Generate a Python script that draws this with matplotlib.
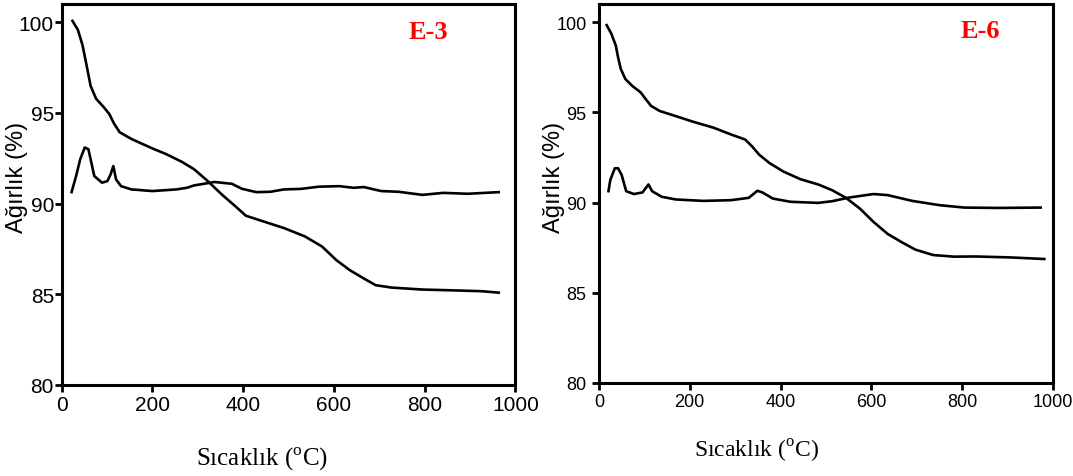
import matplotlib
matplotlib.use("Agg")
import matplotlib.pyplot as plt

plt.rcParams['mathtext.fontset'] = 'custom'
plt.rcParams['mathtext.rm'] = 'Liberation Serif'

# E-3 panel
e3_upper_x = [24, 36, 46, 55, 64, 76, 93, 105, 116, 128, 154, 200, 231, 265, 292, 322, 353, 383,
              406, 444, 490, 536, 574, 605, 635, 666, 692, 727, 795, 857, 925, 963]
e3_upper_y = [100.07, 99.57, 98.74, 97.63, 96.48, 95.78, 95.31, 94.94, 94.39, 93.93, 93.56, 93.04,
              92.72, 92.30, 91.89, 91.24, 90.50, 89.85, 89.33, 89.02, 88.65, 88.19, 87.63, 86.89,
              86.33, 85.87, 85.50, 85.37, 85.26, 85.22, 85.17, 85.09]
e3_lower_x = [22, 32, 41, 51, 59, 64, 72, 89, 101, 108, 114, 120, 131, 154, 200, 253, 276, 292,
              337, 375, 398, 429, 460, 490, 528, 566, 612, 643, 666, 704, 742, 795, 841, 895, 963]
e3_lower_y = [90.63, 91.52, 92.44, 93.09, 93.00, 92.44, 91.52, 91.15, 91.24, 91.61, 92.07, 91.33,
              90.96, 90.78, 90.69, 90.78, 90.87, 91.00, 91.19, 91.09, 90.81, 90.63, 90.65, 90.78,
              90.81, 90.93, 90.96, 90.87, 90.91, 90.69, 90.65, 90.48, 90.59, 90.54, 90.63]

# E-6 panel
e6_upper_x = [17, 27, 37, 42, 48, 58, 73, 92, 103, 115, 134, 169, 207, 253, 291, 322, 337, 353,
              376, 406, 444, 483, 513, 544, 575, 605, 636, 667, 697, 736, 782, 828, 904, 981]
e6_upper_y = [99.83, 99.37, 98.71, 98.06, 97.41, 96.85, 96.47, 96.10, 95.73, 95.35, 95.07, 94.79,
              94.48, 94.14, 93.77, 93.49, 93.12, 92.65, 92.18, 91.72, 91.29, 91.00, 90.69, 90.26,
              89.66, 88.92, 88.26, 87.80, 87.39, 87.09, 87.00, 87.01, 86.96, 86.87]
e6_lower_x = [21, 25, 35, 42, 50, 60, 77, 96, 109, 117, 138, 169, 230, 291, 330, 349, 360, 383,
              422, 483, 513, 552, 605, 636, 690, 751, 805, 881, 973]
e6_lower_y = [90.63, 91.25, 91.90, 91.90, 91.53, 90.63, 90.47, 90.56, 91.00, 90.63, 90.32, 90.17,
              90.09, 90.13, 90.26, 90.65, 90.56, 90.22, 90.04, 89.98, 90.07, 90.28, 90.47, 90.41,
              90.09, 89.85, 89.72, 89.70, 89.72]

xticks = [0, 200, 400, 600, 800, 1000]
yticks = [80, 85, 90, 95, 100]

fig = plt.figure(figsize=(10.73, 4.77), dpi=100)
ax1 = fig.add_axes([0.0574, 0.1908, 0.4230, 0.7987])
ax2 = fig.add_axes([0.5582, 0.1950, 0.4231, 0.7945])

panels = [
    (ax1, e3_upper_x, e3_upper_y, e3_lower_x, e3_lower_y, 'E-3', 0.807, 15, 0.5),
    (ax2, e6_upper_x, e6_upper_y, e6_lower_x, e6_lower_y, 'E-6', 0.841, 13, 4),
]
for ax, ux, uy, lx, ly, name, tx, fs, ypad in panels:
    ax.plot(ux, uy, color='black', lw=1.9)
    ax.plot(lx, ly, color='black', lw=1.9)
    ax.set_xlim(0, 1000)
    ax.set_ylim(80, 101)
    ax.set_xticks(xticks)
    ax.set_yticks(yticks)
    for s in ax.spines.values():
        s.set_linewidth(2.2)
    ax.tick_params(direction='out', length=5, width=2, labelsize=fs,
                   top=False, right=False)
    ax.tick_params(axis='y', pad=ypad)
    ax.tick_params(axis='x', pad=2)
    for lab in ax.get_xticklabels() + ax.get_yticklabels():
        lab.set_fontfamily('Liberation Sans')
    ax.text(tx, 0.929, name, transform=ax.transAxes, color='red', fontsize=19,
            fontweight='bold', family='Liberation Serif', ha='center', va='center')

fig.text(17 / 1073, 1 - 177 / 477, 'Ağırlık (%)', rotation=90, fontsize=17,
         family='Liberation Sans', ha='center', va='center')
fig.text(554 / 1073, 1 - 177 / 477, 'Ağırlık (%)', rotation=90, fontsize=17,
         family='Liberation Sans', ha='center', va='center')
fig.text(262 / 1073, 1 - 459 / 477, r'Sıcaklık ($^{\rm o}$C)', fontsize=18,
         family='Liberation Serif', ha='center', va='center')
fig.text(757 / 1073, 1 - 451 / 477, r'Sıcaklık ($^{\rm o}$C)', fontsize=17,
         family='Liberation Serif', ha='center', va='center')

fig.savefig('out.png', dpi=100)
